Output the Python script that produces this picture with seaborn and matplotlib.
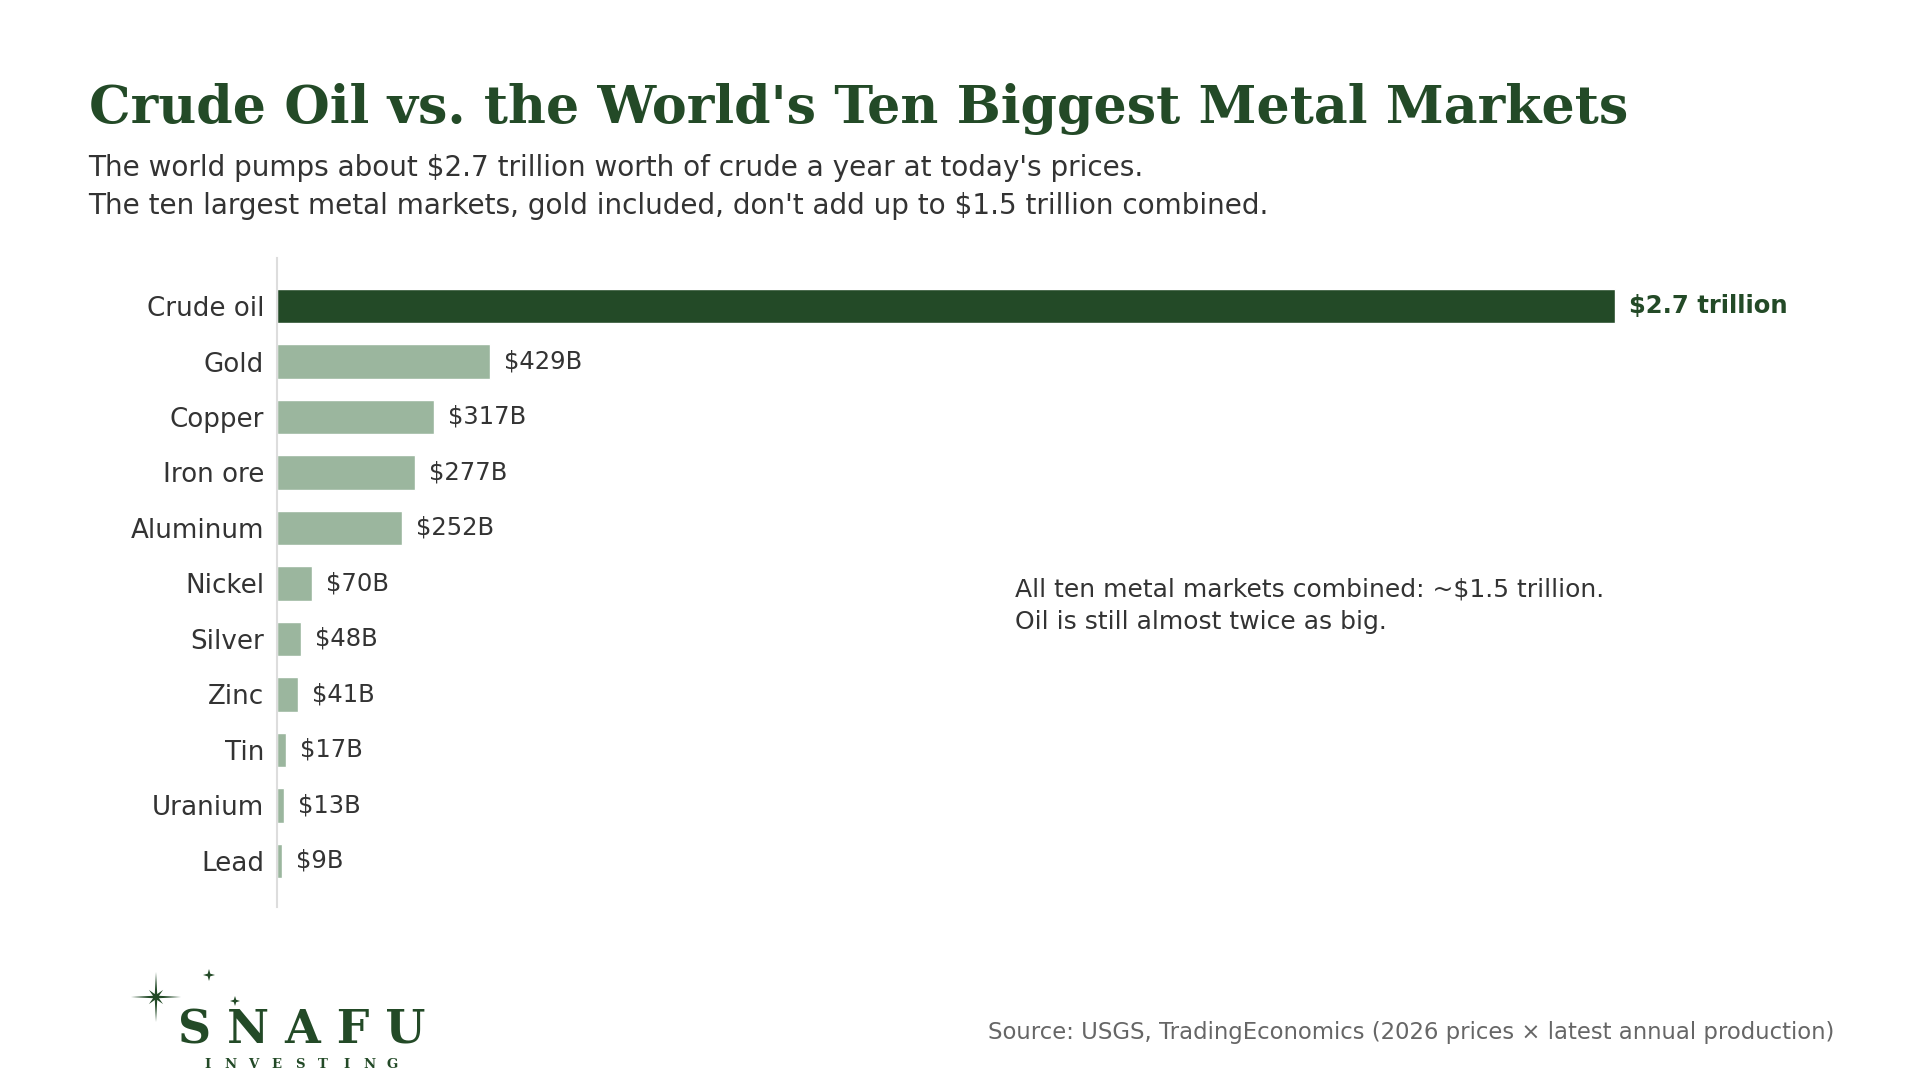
import numpy as np
import pandas as pd
import matplotlib
matplotlib.use("Agg")
import matplotlib.pyplot as plt
from matplotlib.path import Path
from matplotlib.patches import PathPatch
import seaborn as sns

# ---- data ----
categories = ["Crude oil", "Gold", "Copper", "Iron ore", "Aluminum", "Nickel",
              "Silver", "Zinc", "Tin", "Uranium", "Lead"]
values_b = [2700, 429, 317, 277, 252, 70, 48, 41, 17, 13, 9]
value_labels = ["$2.7 trillion", "$429B", "$317B", "$277B", "$252B", "$70B",
                "$48B", "$41B", "$17B", "$13B", "$9B"]

DARK = "#234a27"
LIGHT = "#9bb69e"
TXT = "#333333"

sns.set_theme(style="white")
plt.rcParams['font.family'] = ['DejaVu Sans']

df = pd.DataFrame({"market": categories, "value": values_b})
palette = {c: (DARK if i == 0 else LIGHT) for i, c in enumerate(categories)}

fig = plt.figure(figsize=(19.2, 10.8), dpi=100)
ax = fig.add_axes([0.1445, 0.1602, 0.9596 - 0.1445, 0.7611 - 0.1602])

sns.barplot(data=df, x="value", y="market", hue="market", palette=palette,
            order=categories, width=0.62, dodge=False, legend=False,
            saturation=1, ax=ax)

ax.set_xlim(0, 3160)
ax.set_ylim(10.83, -0.865)
ax.set_xlabel("")
ax.set_ylabel("")
ax.set_xticks([])
for s in ["top", "right", "bottom"]:
    ax.spines[s].set_visible(False)
ax.spines["left"].set_color("#dddddd")
ax.spines["left"].set_linewidth(1.5)
ax.tick_params(axis="y", length=0, pad=9.5, labelsize=18.8, labelcolor=TXT)

for i, (v, lab) in enumerate(zip(values_b, value_labels)):
    if i == 0:
        ax.annotate(lab, (v, i), xytext=(10, 0), textcoords="offset points",
                    va="center", ha="left", fontsize=17.5, fontweight="bold", color=DARK)
    else:
        ax.annotate(lab, (v, i), xytext=(10, 0), textcoords="offset points",
                    va="center", ha="left", fontsize=17.5, color=TXT)

ax.text(1490, 5.4, "All ten metal markets combined: ~$1.5 trillion.\nOil is still almost twice as big.",
        va="center", ha="left", fontsize=18, color=TXT, linespacing=1.42)

# ---- titles ----
fig.text(0.0461, 0.886, "Crude Oil vs. the World's Ten Biggest Metal Markets",
         family="DejaVu Serif", fontweight="bold", fontsize=37.6, color=DARK, va="baseline")
fig.text(0.0461, 0.837, "The world pumps about $2.7 trillion worth of crude a year at today's prices.",
         fontsize=20.1, color=TXT, va="baseline")
fig.text(0.0461, 0.802, "The ten largest metal markets, gold included, don't add up to $1.5 trillion combined.",
         fontsize=20.1, color=TXT, va="baseline")

fig.text(0.9552, 0.0442, "Source: USGS, TradingEconomics (2026 prices \u00d7 latest annual production)",
         fontsize=16.4, color="#666666", ha="right", va="center")

# ---- logo ----
lax = fig.add_axes([0, 0, 1, 1], facecolor="none")
lax.set_xlim(0, 1920)
lax.set_ylim(1080, 0)
lax.axis("off")

def star(cx, cy, r, w):
    verts = [(cx, cy - r), (cx + w, cy - w), (cx + r, cy), (cx + w, cy + w),
             (cx, cy + r), (cx - w, cy + w), (cx - r, cy), (cx - w, cy - w), (cx, cy - r)]
    codes = [Path.MOVETO] + [Path.LINETO] * 7 + [Path.CLOSEPOLY]
    return Path(verts, codes)

def star8(cx, cy, r, r2, w):
    pts = []
    for k in range(8):
        a = np.pi / 2 - k * np.pi / 4
        rr = r if k % 2 == 0 else r2
        pts.append((cx + rr * np.cos(a), cy - rr * np.sin(a)))
        a2 = a - np.pi / 8
        pts.append((cx + w * np.cos(a2), cy - w * np.sin(a2)))
    pts.append(pts[0])
    codes = [Path.MOVETO] + [Path.LINETO] * (len(pts) - 2) + [Path.CLOSEPOLY]
    return Path(pts, codes)

lax.add_patch(PathPatch(star8(156, 997, 25, 10, 3.2), facecolor=DARK, edgecolor="none"))
for (cx, cy, r, w) in [(209, 975, 6, 1.3), (235, 1001, 5, 1.2)]:
    lax.add_patch(PathPatch(star(cx, cy, r, w), facecolor=DARK, edgecolor="none"))

lax.text(302, 1043, "S N A F U", family="DejaVu Serif", fontweight="bold", fontsize=33,
         color=DARK, ha="center", va="baseline")
for k, ch in enumerate("INVESTING"):
    lax.text(207 + k * 23.2, 1068, ch, family="DejaVu Serif", fontweight="bold",
             fontsize=9.5, color=DARK, ha="center", va="baseline")

fig.savefig("out.png", dpi=100, facecolor="white")
